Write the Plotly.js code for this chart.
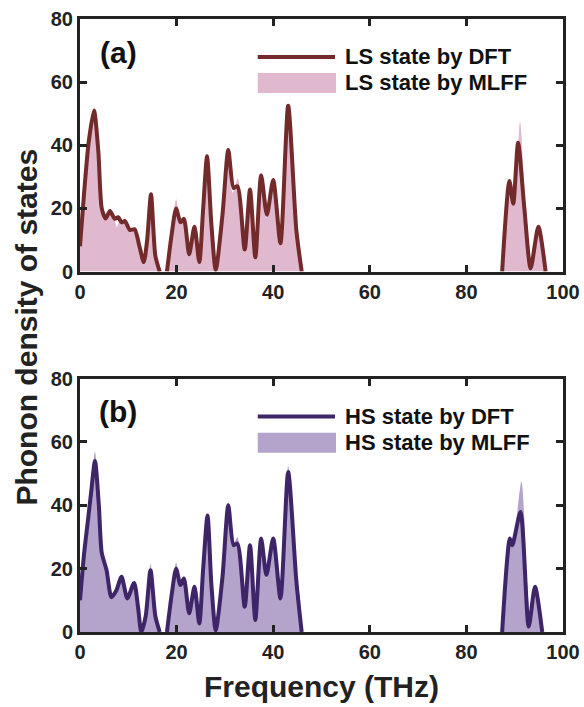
<!DOCTYPE html>
<html>
<head>
<meta charset="utf-8">
<script src="https://cdn.plot.ly/plotly-3.0.1.min.js"></script>
<style>
  html, body { margin: 0; padding: 0; background: #fff; }
  #chart { width: 584px; height: 707px; }
</style>
</head>
<body>
<div id="chart"></div>
<script>
// ---------- Data ----------
// Panel (a): LS state  (null = empty frequency gap, no line drawn there)
const lsDftFreq = [0, 0.8, 1.8, 2.9, 3.8, 4.5, 5.3, 6.2, 7.2, 7.9, 8.6, 9.3, 10.3, 11.3, 12.3, 13.2, 13.9, 14.7, 15.6, 16.5, 17.3, 18.0, 19.0, 19.9, 20.8, 21.5, 22.6, 23.7, 24.7, 25.5, 26.3, 27.2, 28.1, 29.5, 30.7, 31.8, 32.6, 34.1, 35.2, 36.3, 37.5, 38.7, 40.0, 41.5, 43.1, 44.8, 45.9, 66.0, 87.4, 88.9, 89.7, 90.7, 92.0, 93.3, 94.9, 96.4];
const lsDftDos  = [8, 24, 41, 51, 38, 20, 16.8, 19.2, 16.7, 17.2, 15.6, 16, 13.2, 13.4, 8, 3, 10, 24.5, 5, 0, null, 0, 12, 20, 15.6, 16.7, 5.5, 14.2, 3, 20, 36.5, 15, 0.5, 18, 38.5, 26.5, 27, 7, 26, 4.5, 30.5, 18, 29, 9, 52.5, 13, 0, null, 0, 28.7, 21.5, 40.8, 20, 1, 14.2, 0];

const lsMlffFreq = [0, 0.8, 1.8, 2.9, 3.8, 4.5, 5.3, 6.2, 7.0, 7.6, 8.3, 9.3, 10.3, 11.3, 12.3, 13.2, 13.9, 14.7, 15.6, 16.5, 18.0, 19.0, 19.9, 20.8, 21.5, 22.6, 23.7, 24.7, 25.5, 26.3, 27.2, 28.1, 29.5, 30.7, 31.6, 32.7, 34.1, 35.2, 36.3, 37.5, 38.6, 40.0, 41.5, 43.1, 44.8, 45.9, 46.8, 86.5, 87.4, 88.8, 89.8, 91.1, 92.2, 93.3, 94.9, 96.4, 97.3, 100];
const lsMlffDos  = [10, 26, 42, 50, 37, 19, 17.5, 18, 17.5, 14, 16.5, 15, 14, 13, 8, 4, 10, 23.5, 5, 0, 0, 13, 23, 16, 17, 6, 14, 3.5, 20, 35.5, 15, 0.5, 19, 37, 25, 29.5, 8, 25.5, 5, 29.5, 17, 28.5, 10, 51.5, 13, 0, 0, 0, 0, 25, 24, 47.5, 22, 1.5, 13.5, 0, 0, 0];

// Panel (b): HS state
const hsDftFreq = [0, 0.8, 1.7, 2.3, 3.1, 3.9, 4.5, 5.5, 6.5, 7.5, 8.6, 9.8, 11.2, 12.0, 12.7, 13.6, 14.6, 15.6, 16.5, 17.3, 18.0, 19.0, 19.9, 20.8, 21.5, 22.6, 23.7, 24.7, 25.5, 26.4, 27.2, 28.1, 29.5, 30.7, 31.8, 32.6, 34.1, 35.2, 36.3, 37.5, 38.6, 40.0, 41.5, 43.1, 44.8, 45.9, 66.0, 87.4, 89.0, 89.5, 91.2, 92.9, 94.2, 95.7];
const hsDftDos  = [10, 24, 36, 44, 54, 40, 25, 19.5, 11, 13, 17.4, 10.6, 15.5, 8, 0, 5, 19.5, 5, 0, null, 0, 12, 20, 14.8, 16.9, 5.9, 14.3, 2.7, 20, 36.8, 15, 0.5, 17.4, 40, 27.4, 27.9, 8, 27.4, 3.8, 29.5, 18, 29.5, 10.6, 50.5, 16, 0, null, 0, 29.5, 27.4, 37.9, 1.7, 14.3, 0];

const hsMlffFreq = [0, 0.8, 1.7, 2.3, 3.1, 3.9, 4.5, 5.5, 6.5, 7.5, 8.6, 9.8, 11.2, 12.0, 12.7, 13.6, 14.6, 15.6, 16.5, 18.0, 19.0, 19.9, 20.8, 21.5, 22.6, 23.7, 24.7, 25.5, 26.4, 27.2, 28.1, 29.5, 30.7, 31.6, 32.6, 34.1, 35.2, 36.3, 37.5, 38.6, 40.0, 41.5, 43.1, 44.8, 45.9, 46.8, 86.5, 87.4, 89.0, 89.8, 91.4, 92.6, 93.3, 94.3, 95.7, 96.6, 100];
const hsMlffDos  = [12, 27, 38, 46, 57, 42, 26, 20, 12, 14, 17, 11, 16, 8, 0.5, 6, 21.5, 5, 0, 0, 13, 22, 15, 17, 6, 14.5, 3, 20, 36, 15, 0.5, 18, 41, 27, 30, 8.5, 27, 4, 29, 17, 30, 11, 52.5, 16, 0, 0, 0, 0, 28, 30, 47.5, 15, 3, 14.5, 0, 0, 0];

const seriesNames = ["LS state by DFT", "LS state by MLFF", "HS state by DFT", "HS state by MLFF"];
const panelLabels = ["(a)", "(b)"];
const xTicks = [0, 20, 40, 60, 80, 100];
const yTicks = [0, 20, 40, 60, 80];
const xTitle = "Frequency (THz)";
const yTitle = "Phonon density of states";

// ---------- Styles ----------
const FONT = "'Liberation Sans', Arial, Helvetica, sans-serif";
const INK = "#222222";
const lsLine = "#732a2b";
const lsFill = "#e0b9cf";
const hsLine = "#3e2568";
const hsFill = "#b4a4cc";

const traces = [
  { x: lsMlffFreq, y: lsMlffDos, name: seriesNames[1], type: "scatter", mode: "lines",
    fill: "tozeroy", fillcolor: lsFill, line: { width: 0, color: lsFill, shape: "spline", smoothing: 0.7 },
    xaxis: "x", yaxis: "y", showlegend: false, hoverinfo: "skip" },
  { x: lsDftFreq, y: lsDftDos, name: seriesNames[0], type: "scatter", mode: "lines", connectgaps: false,
    line: { width: 4, color: lsLine, shape: "spline", smoothing: 0.7 },
    xaxis: "x", yaxis: "y", showlegend: false },
  { x: hsMlffFreq, y: hsMlffDos, name: seriesNames[3], type: "scatter", mode: "lines",
    fill: "tozeroy", fillcolor: hsFill, line: { width: 0, color: hsFill, shape: "spline", smoothing: 0.7 },
    xaxis: "x2", yaxis: "y2", showlegend: false, hoverinfo: "skip" },
  { x: hsDftFreq, y: hsDftDos, name: seriesNames[2], type: "scatter", mode: "lines", connectgaps: false,
    line: { width: 4, color: hsLine, shape: "spline", smoothing: 0.7 },
    xaxis: "x2", yaxis: "y2", showlegend: false }
];

function xAxis(anchor, withTitle) {
  const ax = {
    anchor: anchor, domain: [0, 1], range: [0, 100], tickvals: xTicks,
    ticks: "inside", ticklen: 7, tickwidth: 3, tickcolor: INK,
    showline: true, linewidth: 3, linecolor: INK, mirror: "allticks",
    showgrid: false, zeroline: false, layer: "above traces",
    tickfont: { family: FONT, size: 20, color: INK, weight: 700 }
  };
  if (withTitle) {
    ax.title = { text: xTitle, font: { family: FONT, size: 30, color: INK, weight: 700 }, standoff: 14 };
  }
  return ax;
}
function yAxis(anchor, domain) {
  return {
    anchor: anchor, domain: domain, range: [0, 80], tickvals: yTicks,
    ticks: "inside", ticklen: 7, tickwidth: 3, tickcolor: INK,
    showline: true, linewidth: 3, linecolor: INK, mirror: "allticks",
    showgrid: false, zeroline: false, layer: "above traces",
    tickfont: { family: FONT, size: 20, color: INK, weight: 700 }
  };
}

// legend drawn per panel (line sample, fill swatch, labels)
function panelLegend(xref, yref, lineColor, fillColor, name1, name2) {
  const xr = xref + " domain", yr = yref + " domain";
  const shapes = [
    { type: "line", xref: xr, yref: yr, x0: 0.368, x1: 0.528, y0: 0.850, y1: 0.850,
      line: { color: lineColor, width: 4 } },
    { type: "rect", xref: xr, yref: yr, x0: 0.368, x1: 0.530, y0: 0.707, y1: 0.786,
      line: { width: 0 }, fillcolor: fillColor }
  ];
  const anns = [
    { xref: xr, yref: yr, x: 0.545, y: 0.850, xanchor: "left", yanchor: "middle", showarrow: false,
      text: name1, font: { family: FONT, size: 22, color: "#111", weight: 700 } },
    { xref: xr, yref: yr, x: 0.545, y: 0.747, xanchor: "left", yanchor: "middle", showarrow: false,
      text: name2, font: { family: FONT, size: 22, color: "#111", weight: 700 } }
  ];
  return { shapes, anns };
}

const legA = panelLegend("x", "y", lsLine, lsFill, seriesNames[0], seriesNames[1]);
const legB = panelLegend("x2", "y2", hsLine, hsFill, seriesNames[2], seriesNames[3]);

const annotations = [
  ...legA.anns, ...legB.anns,
  { xref: "x domain", yref: "y domain", x: 0.079, y: 0.868, xanchor: "center", yanchor: "middle",
    showarrow: false, text: panelLabels[0], font: { family: FONT, size: 30, color: "#111", weight: 700 } },
  { xref: "x2 domain", yref: "y2 domain", x: 0.079, y: 0.868, xanchor: "center", yanchor: "middle",
    showarrow: false, text: panelLabels[1], font: { family: FONT, size: 30, color: "#111", weight: 700 } },
  { xref: "paper", yref: "paper", x: -0.11, y: 0.498, xanchor: "center", yanchor: "middle",
    textangle: -90, showarrow: false, text: yTitle,
    font: { family: FONT, size: 30, color: INK, weight: 700 } }
];

const layout = {
  width: 584, height: 707,
  margin: { l: 80, r: 21, t: 19, b: 75 },
  paper_bgcolor: "#ffffff", plot_bgcolor: "#ffffff",
  showlegend: false,
  xaxis: xAxis("y", false),
  yaxis: yAxis("x", [0.588, 1]),
  xaxis2: xAxis("y2", true),
  yaxis2: yAxis("x2", [0, 0.4135]),
  shapes: [...legA.shapes, ...legB.shapes],
  annotations: annotations
};

Plotly.newPlot("chart", traces, layout, { staticPlot: true, displayModeBar: false });
</script>
</body>
</html>
